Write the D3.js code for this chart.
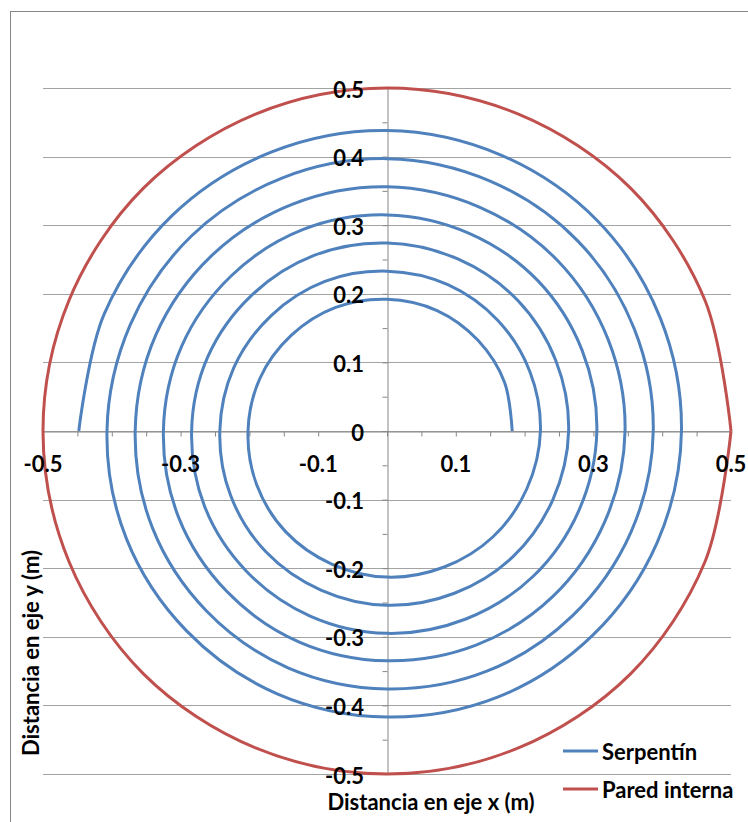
<!DOCTYPE html>
<html>
<head>
<meta charset="utf-8">
<script src="https://cdn.jsdelivr.net/npm/d3@7/dist/d3.min.js"></script>
<style>
  body { margin: 0; background: #ffffff; }
  text { font-family: Lato, "Open Sans", sans-serif; font-weight: bold; fill: #000; }
</style>
</head>
<body>
<svg id="chart" width="748" height="822"></svg>
<script>
// Serpentín: radio (m) de la espiral, un valor cada 22.5°, partiendo del eje +x y girando en sentido antihorario
const serpentinPasoGrados = 22.5;
const serpentinRadio = [
  0.182, 0.185, 0.187, 0.190, 0.192, 0.195, 0.197, 0.200,
  0.202, 0.205, 0.208, 0.210, 0.213, 0.215, 0.218, 0.220,
  0.223, 0.225, 0.228, 0.231, 0.233, 0.236, 0.238, 0.241,
  0.243, 0.246, 0.249, 0.251, 0.254, 0.256, 0.259, 0.261,
  0.264, 0.266, 0.269, 0.271, 0.274, 0.277, 0.279, 0.282,
  0.284, 0.287, 0.289, 0.292, 0.295, 0.297, 0.300, 0.302,
  0.305, 0.307, 0.310, 0.312, 0.315, 0.318, 0.320, 0.323,
  0.325, 0.328, 0.330, 0.333, 0.335, 0.338, 0.341, 0.343,
  0.346, 0.348, 0.351, 0.353, 0.356, 0.358, 0.361, 0.364,
  0.366, 0.369, 0.371, 0.374, 0.376, 0.379, 0.381, 0.384,
  0.387, 0.389, 0.392, 0.394, 0.397, 0.399, 0.402, 0.404,
  0.407, 0.410, 0.412, 0.415, 0.417, 0.420, 0.422, 0.425,
  0.428, 0.430, 0.433, 0.435, 0.438, 0.440, 0.443, 0.445,
  0.448
];

// Pared interna: circunferencia de radio 0.5 m
const paredX = [0.5, 0.462, 0.354, 0.191, 0, -0.191, -0.354, -0.462, -0.5,
                -0.462, -0.354, -0.191, 0, 0.191, 0.354, 0.462, 0.5];
const paredY = [0, 0.191, 0.354, 0.462, 0.5, 0.462, 0.354, 0.191, 0,
                -0.191, -0.354, -0.462, -0.5, -0.462, -0.354, -0.191, 0];

// Ejes
const ejeXEtiquetas = [-0.5, -0.3, -0.1, 0.1, 0.3, 0.5];
const ejeYEtiquetas = [0.5, 0.4, 0.3, 0.2, 0.1, 0, -0.1, -0.2, -0.3, -0.4, -0.5];
const marcasMenores = [-0.5, -0.45, -0.4, -0.35, -0.3, -0.25, -0.2, -0.15, -0.1, -0.05, 0,
                       0.05, 0.1, 0.15, 0.2, 0.25, 0.3, 0.35, 0.4, 0.45, 0.5];

const series = [
  { nombre: "Serpentín", color: "#4F81BD" },
  { nombre: "Pared interna", color: "#C0504D" }
];

const svg = d3.select("#chart");

const x = d3.scaleLinear().domain([-0.5, 0.5]).range([43, 731]);
const y = d3.scaleLinear().domain([-0.5, 0.5]).range([774, 88]);

// Marco del gráfico
svg.append("rect")
  .attr("x", 10.5).attr("y", 11.5)
  .attr("width", 760).attr("height", 830)
  .attr("fill", "none").attr("stroke", "#878787").attr("stroke-width", 1);

// Líneas de división horizontales
svg.append("g")
  .selectAll("line")
  .data(ejeYEtiquetas)
  .join("line")
  .attr("x1", x(-0.5)).attr("x2", x(0.5))
  .attr("y1", d => Math.round(y(d)) + 0.5).attr("y2", d => Math.round(y(d)) + 0.5)
  .attr("stroke", "#a3a3a3").attr("stroke-width", 1);

// Eje X (cruza en y = 0)
const ejeX = svg.append("g")
  .attr("transform", `translate(0,${Math.round(y(0)) + 0.5})`)
  .call(d3.axisBottom(x).tickValues(marcasMenores).tickSize(5).tickSizeOuter(0).tickFormat(""));

// Eje Y (cruza en x = 0)
const ejeY = svg.append("g")
  .attr("transform", `translate(${Math.round(x(0)) + 0.5},0)`)
  .call(d3.axisLeft(y).tickValues(marcasMenores).tickSize(5).tickSizeOuter(0).tickFormat(""));

[ejeX, ejeY].forEach(g => {
  g.select(".domain").attr("stroke", "#878787");
  g.selectAll(".tick line").attr("stroke", "#878787");
});

// Series
const linea = d3.line()
  .x(d => x(d[0]))
  .y(d => y(d[1]))
  .curve(d3.curveCatmullRom.alpha(0.5));

const puntosSerpentin = serpentinRadio.map((r, i) => {
  const a = (i * serpentinPasoGrados) * Math.PI / 180;
  return [r * Math.cos(a), r * Math.sin(a)];
});
const puntosPared = paredX.map((v, i) => [v, paredY[i]]);

svg.append("path")
  .datum(puntosSerpentin)
  .attr("d", linea)
  .attr("fill", "none")
  .attr("stroke", series[0].color)
  .attr("stroke-width", 3)
  .attr("stroke-linejoin", "round");

svg.append("path")
  .datum(puntosPared)
  .attr("d", linea)
  .attr("fill", "none")
  .attr("stroke", series[1].color)
  .attr("stroke-width", 3)
  .attr("stroke-linejoin", "round");

// Etiquetas de los ejes
svg.append("g")
  .selectAll("text")
  .data(ejeXEtiquetas)
  .join("text")
  .attr("x", d => x(d))
  .attr("y", y(0) + 32)
  .attr("text-anchor", "middle")
  .attr("dominant-baseline", "central")
  .style("font-size", "22px")
  .text(d => String(d));

svg.append("g")
  .selectAll("text")
  .data(ejeYEtiquetas)
  .join("text")
  .attr("x", 364)
  .attr("y", d => y(d) + 1)
  .attr("text-anchor", "end")
  .attr("dominant-baseline", "central")
  .style("font-size", "22px")
  .text(d => String(d));

// Títulos de los ejes
svg.append("text")
  .attr("x", 431).attr("y", 801)
  .attr("text-anchor", "middle")
  .attr("dominant-baseline", "central")
  .style("font-size", "22px")
  .text("Distancia en eje x (m)");

svg.append("text")
  .attr("transform", "translate(30,653) rotate(-90)")
  .attr("text-anchor", "middle")
  .attr("dominant-baseline", "central")
  .style("font-size", "22px")
  .text("Distancia en eje y (m)");

// Leyenda
const leyenda = svg.append("g")
  .selectAll("g")
  .data(series)
  .join("g")
  .attr("transform", (d, i) => `translate(563,${751 + i * 38})`);

leyenda.append("line")
  .attr("x1", 0).attr("x2", 35)
  .attr("y1", 0).attr("y2", 0)
  .attr("stroke", d => d.color)
  .attr("stroke-width", 3);

leyenda.append("text")
  .attr("x", 39).attr("y", 0)
  .attr("dominant-baseline", "central")
  .style("font-size", "22px")
  .text(d => d.nombre);
</script>
</body>
</html>
